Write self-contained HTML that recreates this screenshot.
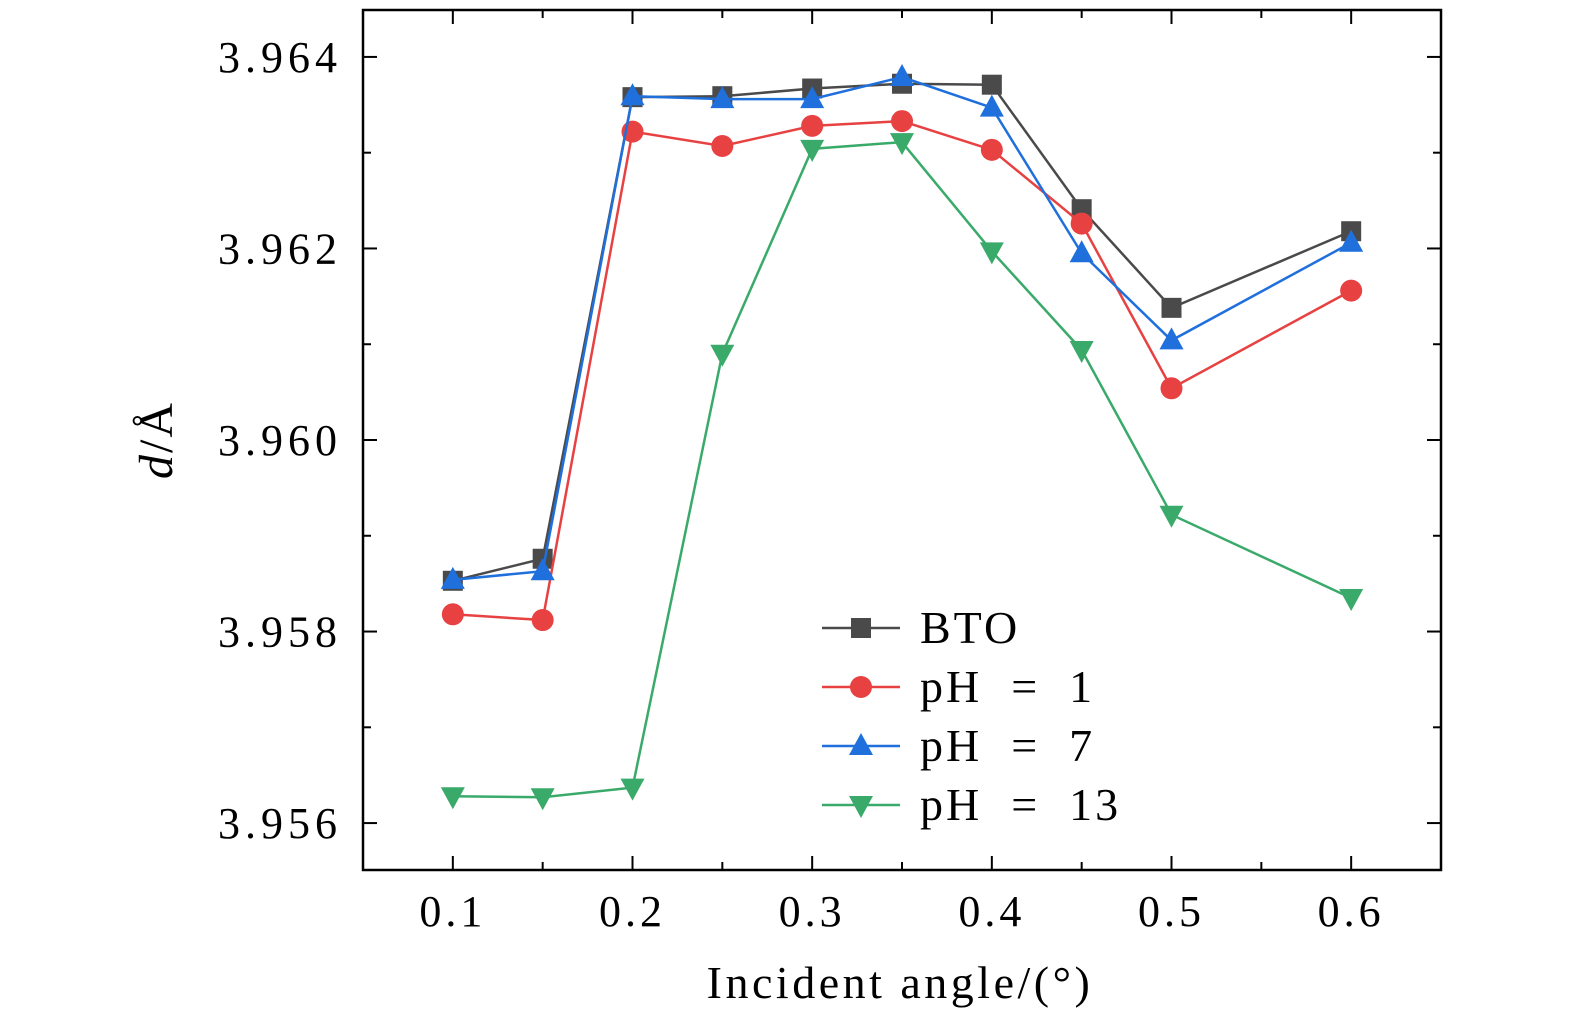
<!DOCTYPE html>
<html><head><meta charset="utf-8"><style>
html,body{margin:0;padding:0;background:#fff}
svg{display:block;font-family:"Liberation Serif",serif}
</style></head><body>
<svg id="chart" width="1575" height="1024" xmlns="http://www.w3.org/2000/svg">
<g id="axes"></g>
<g id="series"></g>
<g id="legend"></g>
<text x="900" y="998" font-size="46" text-anchor="middle" letter-spacing="3.5">Incident angle/(°)</text>
<text transform="translate(172,440) rotate(-90)" font-size="48" text-anchor="middle" letter-spacing="2"><tspan font-style="italic">d</tspan>/Å</text>
</svg>
<script>
const xValues=[0.1,0.15,0.2,0.25,0.3,0.35,0.4,0.45,0.5,0.6];
const btoValues=[3.95853,3.95876,3.96358,3.96359,3.96367,3.96372,3.96371,3.96241,3.96138,3.96218];
const ph1Values=[3.95818,3.95812,3.96322,3.96307,3.96328,3.96333,3.96303,3.96226,3.96054,3.96156];
const ph7Values=[3.95854,3.95863,3.96359,3.96356,3.96356,3.96379,3.96347,3.96195,3.96104,3.96206];
const ph13Values=[3.95628,3.95627,3.95637,3.96090,3.96304,3.96311,3.96197,3.96094,3.95922,3.95835];
const seriesNames=["BTO","pH = 1","pH = 7","pH = 13"];
const xTicks=[0.1,0.2,0.3,0.4,0.5,0.6];
const xTickLabels=["0.1","0.2","0.3","0.4","0.5","0.6"];
const yTicks=[3.956,3.958,3.960,3.962,3.964];
const yTickLabels=["3.956","3.958","3.960","3.962","3.964"];

const NS="http://www.w3.org/2000/svg";
const L=363,R=1441,T=10,B=870;
const X0=0.05,X1=0.65,Y0=3.95551,Y1=3.96449;
const sx=v=>L+(v-X0)/(X1-X0)*(R-L);
const sy=v=>B-(v-Y0)/(Y1-Y0)*(B-T);
function mk(tag,attrs,parent){const e=document.createElementNS(NS,tag);for(const k in attrs)e.setAttribute(k,attrs[k]);parent.appendChild(e);return e;}
const axes=document.getElementById('axes');
const frame=mk('rect',{x:L,y:T,width:R-L,height:B-T,fill:'none',stroke:'#000','stroke-width':2.5},axes);


for(let i=0;i<xTicks.length;i++){
  const x=sx(xTicks[i]);
  mk('line',{x1:x,x2:x,y1:B,y2:B-14,stroke:'#000','stroke-width':2},axes);
  mk('line',{x1:x,x2:x,y1:T,y2:T+14,stroke:'#000','stroke-width':2},axes);
  const mx=sx(xTicks[i]+0.05);
  mk('line',{x1:mx,x2:mx,y1:B,y2:B-8,stroke:'#000','stroke-width':2},axes);
  mk('line',{x1:mx,x2:mx,y1:T,y2:T+8,stroke:'#000','stroke-width':2},axes);
  const t=mk('text',{x:x,y:926,'font-size':44,'text-anchor':'middle','letter-spacing':4},axes);
  t.textContent=xTickLabels[i];
  
  
}
for(let i=0;i<yTicks.length;i++){
  const y=sy(yTicks[i]);
  mk('line',{x1:L,x2:L+14,y1:y,y2:y,stroke:'#000','stroke-width':2},axes);
  mk('line',{x1:R,x2:R-14,y1:y,y2:y,stroke:'#000','stroke-width':2},axes);
  if(i<yTicks.length-1){const my=sy(yTicks[i]+0.001);
  mk('line',{x1:L,x2:L+8,y1:my,y2:my,stroke:'#000','stroke-width':2},axes);
  mk('line',{x1:R,x2:R-8,y1:my,y2:my,stroke:'#000','stroke-width':2},axes);}
  const t=mk('text',{x:342,y:y+15,'font-size':44,'text-anchor':'end','letter-spacing':5},axes);
  t.textContent=yTickLabels[i];
  
  
}
function marker(type,x,y,color,parent){
  if(type==='sq') return mk('rect',{x:x-10,y:y-10,width:20,height:20,fill:color},parent);
  if(type==='ci') return mk('circle',{cx:x,cy:y,r:11,fill:color},parent);
  if(type==='up') return mk('polygon',{points:`${x},${y-13} ${x-12},${y+9} ${x+12},${y+9}`,fill:color},parent);
  return mk('polygon',{points:`${x},${y+13} ${x-12},${y-9} ${x+12},${y-9}`,fill:color},parent);
}
const allSeries=[[btoValues,'#4a4a4a','sq'],[ph1Values,'#e84142','ci'],[ph7Values,'#1f6fdc','up'],[ph13Values,'#3aaa6a','dn']];
const sg=document.getElementById('series');
const lg=document.getElementById('legend');
allSeries.forEach((s,k)=>{
  const [vals,color,type]=s;
  const g=mk('g',{},sg);
  
  
  const pts=vals.map((v,i)=>sx(xValues[i])+','+sy(v)).join(' ');
  mk('polyline',{points:pts,fill:'none',stroke:color,'stroke-width':2.5},g);
  vals.forEach((v,i)=>{const m=marker(type,sx(xValues[i]),sy(v),color,g);
    
    });
  const ly=628+k*59;
  const le=mk('g',{},lg);
  
  
  mk('line',{x1:822,x2:900,y1:ly,y2:ly,stroke:color,'stroke-width':2.5},le);
  marker(type,861,ly,color,le);
  const t=mk('text',{x:920,y:ly+15,'font-size':46,'letter-spacing':3,'xml:space':'preserve'},le);
  t.setAttribute('style','white-space:pre');
  t.textContent=seriesNames[k].replace(/ = /,'  =  ');
});
</script>
</body></html>
